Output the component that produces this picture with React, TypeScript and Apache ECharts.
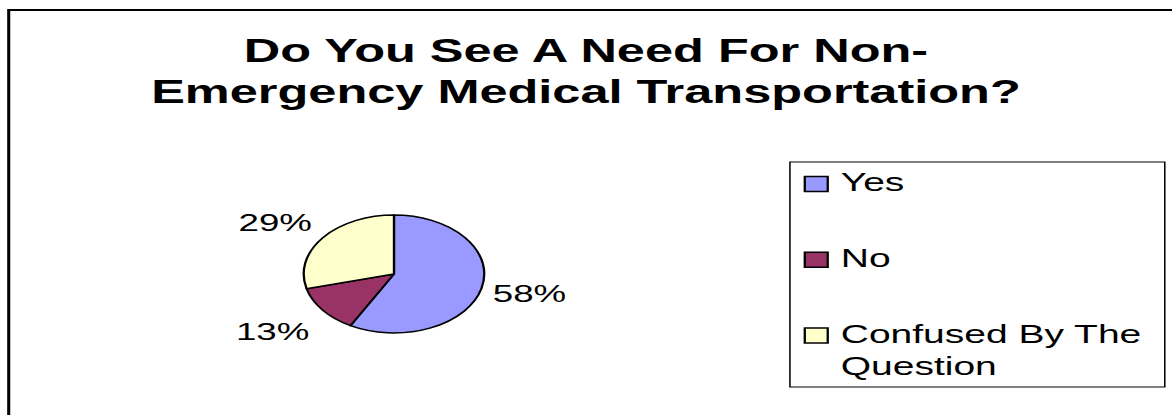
import React, { useEffect, useRef } from 'react';
import * as echarts from 'echarts';

// ---- data ----
const titleLines = ['Do You See A Need For Non-', 'Emergency Medical Transportation?'];
const categories = ['Yes', 'No', 'Confused By The Question'];
const values = [58, 13, 29];
const colors = ['#9999FF', '#993366', '#FFFFCC'];

// ---- layout (the reference is horizontally stretched) ----
const SX = 1.53;
const PAGE_W = 1172;
const PAGE_H = 415;
const W = Math.round(PAGE_W / SX);
const FONT = '"Liberation Sans", Arial, Helvetica, sans-serif';
const labelLen1 = [19, 35, 24];
const labelLen2 = [-16, -24, -17];

function wrapLegend(name: string): string {
  return name === 'Confused By The Question' ? 'Confused By The\nQuestion' : name;
}

export default function App() {
  const ref = useRef<HTMLDivElement>(null);

  useEffect(() => {
    if (!ref.current) return;
    const chart = echarts.init(ref.current, null, { renderer: 'svg' });

    const legendLeft = 516.3;
    const legendTop = 162;
    const firstTextY = 182.5;
    const step = 75.75;
    const legendItems: any[] = [];
    categories.forEach((name, i) => {
      const cy = firstTextY + i * step;
      legendItems.push({
        type: 'rect',
        shape: { x: 526, y: cy - 6, width: 15, height: 15 },
        style: { fill: colors[i], stroke: '#000', lineWidth: 1.5 },
      });
      legendItems.push({
        type: 'text',
        x: 549.5,
        y: cy - 16,
        style: {
          text: wrapLegend(name),
          font: `25.5px ${FONT}`,
          fontSize: 25.5,
          fontFamily: FONT,
          lineHeight: 32,
          fill: '#000',
          verticalAlign: 'top',
          align: 'left',
        },
      });
    });

    chart.setOption({
      animation: false,
      backgroundColor: '#fff',
      title: {
        text: titleLines.join('\n'),
        left: 'center',
        top: 29.5,
        padding: 0,
        textStyle: {
          fontFamily: FONT,
          fontSize: 33,
          fontWeight: 'bold',
          lineHeight: 41,
          color: '#000',
        },
      },
      graphic: [
        {
          type: 'rect',
          shape: { x: 5.7, y: 10, width: 2000, height: 2000 },
          style: { fill: 'none', stroke: '#000', lineWidth: 2 },
          silent: true,
        },
        {
          type: 'rect',
          shape: { x: legendLeft, y: legendTop, width: 245, height: 225 },
          style: { fill: '#fff', stroke: '#000', lineWidth: 1 },
          silent: true,
        },
        ...legendItems,
      ],
      series: [
        {
          type: 'pie',
          center: [257.5, 274],
          radius: 59,
          startAngle: 90,
          clockwise: true,
          percentPrecision: 0,
          itemStyle: { borderColor: '#000', borderWidth: 1.5 },
          label: {
            show: true,
            position: 'outside',
            formatter: '{d}%',
            fontFamily: FONT,
            fontSize: 24,
            color: '#000',
          },
          labelLine: { show: false },
          emphasis: { disabled: true },
          data: categories.map((name, i) => ({
            name,
            value: values[i],
            itemStyle: { color: colors[i] },
            labelLine: { show: false, length: labelLen1[i], length2: labelLen2[i] },
          })),
        },
      ],
    });

    return () => chart.dispose();
  }, []);

  return (
    <div
      style={{
        position: 'fixed',
        left: 0,
        top: 0,
        width: PAGE_W,
        height: PAGE_H,
        overflow: 'hidden',
        background: '#fff',
      }}
    >
      <div
        ref={ref}
        style={{
          width: W,
          height: PAGE_H,
          transform: `scaleX(${SX})`,
          transformOrigin: '0 0',
        }}
      />
    </div>
  );
}
